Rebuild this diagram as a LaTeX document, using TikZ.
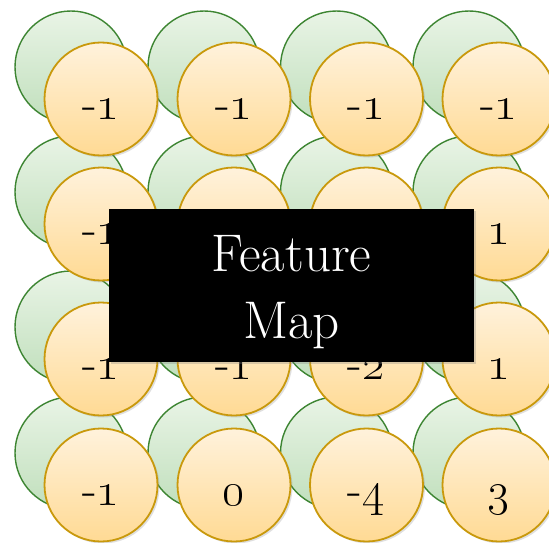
\documentclass[tikz,border=0pt]{standalone}
\usepackage{fix-cm}
\usetikzlibrary{shadows}
\definecolor{grnedge}{HTML}{3D8532}
\definecolor{grntop}{HTML}{E9F4E6}
\definecolor{grnbot}{HTML}{C0DFBC}
\definecolor{orgedge}{HTML}{C9990C}
\definecolor{orgtop}{HTML}{FFF2DC}
\definecolor{orgbot}{HTML}{FFDA94}
\newcommand\osn[1]{\oldstylenums{#1}}
\tikzset{
  greencirc/.style={circle, minimum size=112pt, inner sep=0pt, draw=grnedge,
    line width=1.4pt, top color=grntop, bottom color=grnbot,
    drop shadow={opacity=0.22, shadow xshift=1.5pt, shadow yshift=-1.5pt}},
  orangecirc/.style={circle, minimum size=113pt, inner sep=0pt, draw=orgedge,
    line width=1.8pt, top color=orgtop, bottom color=orgbot,
    text height=40pt, text depth=0pt, text=black,
    font=\fontsize{48}{48}\selectfont,
    drop shadow={opacity=0.25, shadow xshift=2pt, shadow yshift=-2pt}},
  fmbox/.style={rectangle, minimum width=365pt, minimum height=153pt, inner sep=0pt,
    fill=black,
    drop shadow={opacity=0.3, shadow xshift=2pt, shadow yshift=-2pt}},
  fmtextstyle/.style={inner sep=0pt, text=white, align=center,
    font=\fontsize{53}{67}\selectfont}
}
\begin{document}
\begin{tikzpicture}[x=1pt, y=-1pt]
\useasboundingbox (0,0) rectangle (549,543);
\clip (0,0) rectangle (549,543);
\fill[white] (0,0) rectangle (549,543);
% green circles (behind)
\foreach \x/\y/\n in {101/99/11, 234/99/12, 366.5/99/13, 499/99/14,
                      101/224/21, 234/224/22, 366.5/224/23, 499/224/24,
                      101/359/31, 234/359/32, 366.5/359/33, 499/359/34,
                      101/485/41, 234/485/42, 366.5/485/43, 499/485/44}
  \node[greencirc] (g\n) at ({\x-30},{\y-32}) {};
% orange circles (front)
\foreach \x/\y/\n/\v in {101/99/11/{-\osn{1}}, 234/99/12/{-\osn{1}}, 366.5/99/13/{-\osn{1}}, 499/99/14/{-\osn{1}},
                      101/224/21/{-\osn{1}}, 234/224/22/{}, 366.5/224/23/{}, 499/224/24/{\osn{1}},
                      101/359/31/{-\osn{1}}, 234/359/32/{-\osn{1}}, 366.5/359/33/{-\osn{2}}, 499/359/34/{\osn{1}},
                      101/485/41/{-\osn{1}}, 234/485/42/{\osn{0}}, 366.5/485/43/{-\osn{4}}, 499/485/44/{\osn{3}}}
  \node[orangecirc] (o\n) at (\x,\y) {\v};
% feature map label
\node[fmbox] (fm) at (291.5,285.5) {};
\node[fmtextstyle] (fmtext) at (291.5,292) {Feature\\Map};
\end{tikzpicture}
\end{document}
